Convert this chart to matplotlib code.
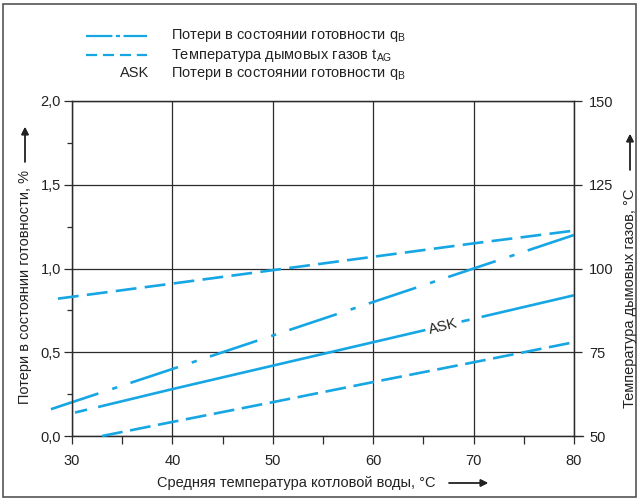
import numpy as np
import matplotlib.pyplot as plt
from matplotlib.lines import Line2D
from matplotlib.patches import Rectangle
from matplotlib.ticker import MultipleLocator, FuncFormatter

plt.rcParams['font.family'] = ['Liberation Sans', 'DejaVu Sans']
plt.rcParams['mathtext.fontset'] = 'custom'
plt.rcParams['mathtext.rm'] = 'Liberation Sans'
plt.rcParams['lines.scale_dashes'] = False

BLUE = '#16a6e4'
DARK = '#2b2b2b'

# data: boiler water temperature (x) vs losses (%) and flue gas temperature (°C)
qb_x = [27.9, 40, 50, 60, 70, 80]
qb_y = [0.16, 0.40, 0.60, 0.80, 1.00, 1.20]

tag_x = [28.6, 40, 50, 60, 70, 80]
tag_y = [91.0, 95.5, 99.5, 103.5, 107.5, 111.3]

ask_x = [30.3, 40, 50, 60, 70, 80]
ask_y = [0.14, 0.28, 0.42, 0.56, 0.70, 0.84]

ask_tag_x = [33.0, 40, 50, 60, 70, 80]
ask_tag_y = [50.0, 54.2, 60.1, 66.1, 72.0, 78.0]

fig = plt.figure(figsize=(6.4, 4.99), dpi=100)
ax = fig.add_axes([72 / 640, 63 / 499, 502 / 640, 335 / 499])
ax2 = ax.twinx()

ax.set_xlim(30, 80)
ax.set_ylim(0, 2.0)
ax2.set_ylim(50, 150)

lw = 1.9
l1, = ax.plot(qb_x, qb_y, color=BLUE, lw=lw, clip_on=False, zorder=3)
l1.set_dashes([36, 10.5, 3.8, 10])
l2, = ax2.plot(tag_x, tag_y, color=BLUE, lw=lw, clip_on=False, zorder=3)
l2.set_dashes([15, 6])
l3, = ax2.plot(ask_tag_x, ask_tag_y, color=BLUE, lw=lw, clip_on=False, zorder=3)
l3.set_dashes([15, 5.5])

# ASK line with its short dashes and a gap for the label
for a, b in [(30.3, 31.5), (32.6, 65.2), (68.8, 69.6), (70.8, 80)]:
    xs = np.linspace(a, b, 20)
    ax.plot(xs, np.interp(xs, ask_x, ask_y), color=BLUE, lw=lw,
            clip_on=False, zorder=3, solid_capstyle='butt')
ax.text(66.95, 0.655, 'ASK', rotation=14, ha='center', va='center',
        fontsize=10.5, color='#222', rotation_mode='anchor')

# axes styling
for a in (ax, ax2):
    for s in a.spines.values():
        s.set_color(DARK)
        s.set_linewidth(0.9)
ax.xaxis.set_major_locator(MultipleLocator(10))
ax.xaxis.set_minor_locator(MultipleLocator(5))
ax.yaxis.set_major_locator(MultipleLocator(0.5))
ax.yaxis.set_minor_locator(MultipleLocator(0.25))
ax.yaxis.set_major_formatter(FuncFormatter(lambda v, p: f'{v:.1f}'.replace('.', ',')))
ax.tick_params(axis='both', which='both', direction='out', color=DARK,
               width=0.9, labelsize=10.5, labelcolor='#222')
ax.tick_params(axis='x', which='both', length=6, pad=7)
ax.tick_params(axis='y', which='major', length=6, pad=2)
ax.tick_params(axis='y', which='minor', length=3.8)
ax2.yaxis.set_major_locator(MultipleLocator(25))
ax2.tick_params(axis='y', direction='out', length=6, pad=5, color=DARK,
                width=0.9, labelsize=10.5, labelcolor='#222')
ax.grid(True, which='major', color=DARK, lw=0.9)
ax.set_axisbelow(True)
ax.plot([80, 80.9], [0, 0], color=DARK, lw=0.9, clip_on=False)

# axis labels with arrows
def fp(x, y):
    return (x / 640, 1 - y / 499)

fig.text(*fp(25, 287), 'Потери в состоянии готовности, %', rotation=90,
         ha='center', va='center', fontsize=10.5, color='#222')
fig.text(*fp(630, 298), 'Температура дымовых газов, °C', rotation=90,
         ha='center', va='center', fontsize=10.5, color='#222')
fig.text(*fp(296, 483), 'Средняя температура котловой воды, °C',
         ha='center', va='center', fontsize=10.5, color='#222')
arrow = dict(arrowstyle='-|>', lw=1.0, color='#222', mutation_scale=11,
             shrinkA=0, shrinkB=0)
for tail, tip in [((25, 162), (25, 127)), ((630, 170), (630, 134)),
                  ((449, 483), (488, 483))]:
    fig.add_artist(plt.annotate('', xy=fp(*tip), xytext=fp(*tail),
                                xycoords='figure fraction', arrowprops=arrow))

# legend
leg_rows = [36, 55, 73]
leg_text = ['Потери в состоянии готовности q$_\\mathrm{B}$',
            'Температура дымовых газов t$_\\mathrm{AG}$',
            'Потери в состоянии готовности q$_\\mathrm{B}$']
ll1 = Line2D([86 / 640, 147 / 640], [1 - 36 / 499] * 2, color=BLUE, lw=1.6,
             transform=fig.transFigure)
ll1.set_dashes([19, 2.5, 3, 2.5])
ll2 = Line2D([86 / 640, 147 / 640], [1 - 55 / 499] * 2, color=BLUE, lw=1.6,
             transform=fig.transFigure)
ll2.set_dashes([8, 4.2])
fig.add_artist(ll1)
fig.add_artist(ll2)
fig.text(*fp(149, 73), 'ASK', ha='right', va='center', fontsize=10.5, color='#222')
for y, t in zip(leg_rows, leg_text):
    fig.text(*fp(171, y), t, ha='left', va='center', fontsize=10.5, color='#222')

# outer frame
fig.add_artist(Rectangle((3 / 640, 2 / 499), 633 / 640, 493 / 499,
                         transform=fig.transFigure, fill=False,
                         edgecolor='#555555', lw=1.2))

fig.savefig('out.png', dpi=100)
